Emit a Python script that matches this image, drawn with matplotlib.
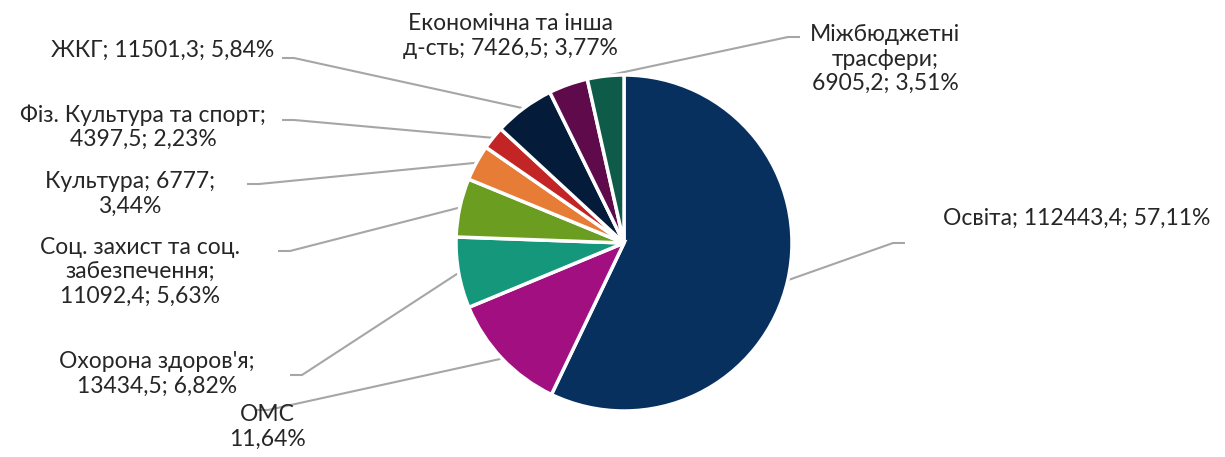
import matplotlib
matplotlib.use("Agg")
import matplotlib.pyplot as plt
import numpy as np

# data
names = ["Освіта", "ОМС", "Охорона здоров'я", "Соц. захист та соц.\nзабезпечення",
         "Культура", "Фіз. Культура та спорт", "ЖКГ", "Економічна та інша\nд-сть",
         "Міжбюджетні\nтрасфери"]
values = [112443.4, 22919.4, 13434.5, 11092.4, 6777, 4397.5, 11501.3, 7426.5, 6905.2]
colors = ["#08305f", "#a20f80", "#15977b", "#6a9d20", "#e77c36",
          "#c32526", "#041c39", "#5e0a4b", "#0e5b49"]
label_fmt = ["{n}; {v}; {p}%", "{n}\n{p}%", "{n};\n{v}; {p}%", "{n};\n{v}; {p}%",
             "{n}; {v};\n{p}%", "{n};\n{v}; {p}%", "{n}; {v}; {p}%", "{n}; {v}; {p}%",
             "{n};\n{v}; {p}%"]

# layout (pixels from top-left)
text_pos = [(1077, 218), (267, 427), (157, 374), (140, 272), (130, 194),
            (143, 127), (163, 50), (510, 36), (885, 59)]
line_start = [(905, 243), (256, 410), (290, 375), (278, 251), (247, 184),
              (282, 120), (282, 58), None, (800, 37)]

W, H = 1225, 457
plt.rcParams['font.family'] = ['Lato', 'DejaVu Sans']

fig = plt.figure(figsize=(W / 100, H / 100), dpi=100)
ax = fig.add_axes([0, 0, 1, 1])

cx, cy, r = 624, H - 243, 168
wedges, _ = ax.pie(values, colors=colors, startangle=90, counterclock=False,
                   center=(cx, cy), radius=r, frame=True,
                   wedgeprops=dict(edgecolor='white', linewidth=2.5))
ax.set_xlim(0, W)
ax.set_ylim(0, H)
ax.set_aspect('equal')
ax.axis('off')

total = sum(values)

def fmt_num(v):
    s = ("%.1f" % v).rstrip('0').rstrip('.')
    return s.replace('.', ',')

for i, w in enumerate(wedges):
    pct = ("%.2f" % (values[i] / total * 100)).replace('.', ',')
    txt = label_fmt[i].format(n=names[i], v=fmt_num(values[i]), p=pct)
    tx, ty = text_pos[i]
    ax.text(tx, H - ty, txt, ha='center', va='center', fontsize=16.5,
            color='#262626', linespacing=1.2)
    if line_start[i] is None:
        continue
    ang = np.deg2rad((w.theta1 + w.theta2) / 2)
    px = cx + r * np.cos(ang)
    py = cy + r * np.sin(ang)
    sx, sy = line_start[i]
    sy = H - sy
    step = 12 if px > sx else -12
    ax.plot([sx, sx + step, px], [sy, sy, py], color='#a6a6a6', lw=1.5,
            solid_capstyle='butt', zorder=0)

fig.savefig("out.png", dpi=100)
